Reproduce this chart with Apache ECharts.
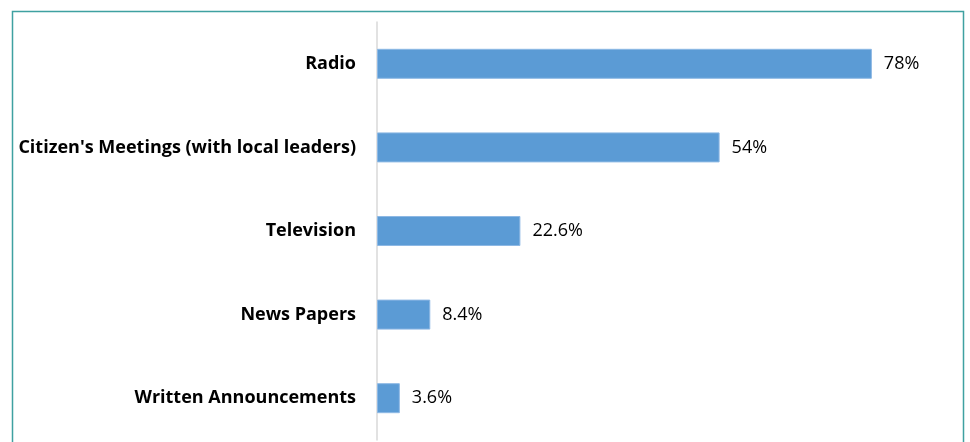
<!DOCTYPE html>
<html>
<head>
<meta charset="utf-8">
<script src="https://cdn.jsdelivr.net/npm/echarts@6/dist/echarts.min.js"></script>
<style>
  html, body { margin: 0; padding: 0; background: #ffffff; }
  #chart { width: 970px; height: 442px; }
</style>
</head>
<body>
<div id="chart"></div>
<script>
// Sources of information, share of respondents (%)
const categories = [
  "Radio",
  "Citizen's Meetings (with local leaders)",
  "Television",
  "News Papers",
  "Written Announcements"
];
const shares = [78, 54, 22.6, 8.4, 3.6];

const chart = echarts.init(document.getElementById('chart'));

chart.setOption({
  animation: false,
  backgroundColor: '#ffffff',
  grid: { left: 377, right: 22, top: 22, bottom: 2, containLabel: false },
  xAxis: {
    type: 'value',
    min: 0,
    max: 90,
    show: false
  },
  yAxis: {
    type: 'category',
    data: categories,
    inverse: true,
    axisLine: { show: true, lineStyle: { color: '#d9d9d9', width: 1.5 } },
    axisTick: { show: false },
    splitLine: { show: false },
    axisLabel: {
      margin: 21,
      color: '#000000',
      fontFamily: 'Open Sans',
      fontWeight: 'bold',
      fontSize: 18
    }
  },
  series: [{
    type: 'bar',
    data: shares,
    barWidth: 30,
    itemStyle: { color: '#5b9bd5', borderColor: '#8db8e4', borderWidth: 1 },
    label: {
      show: true,
      position: 'right',
      distance: 12,
      color: '#000000',
      fontFamily: 'Open Sans',
      fontSize: 18,
      formatter: p => p.value + '%'
    }
  }],
  graphic: [{
    type: 'rect',
    silent: true,
    z: 100,
    shape: { x: 12.5, y: 11.5, width: 951, height: 500 },
    style: { fill: 'none', stroke: '#3fa1a1', lineWidth: 1.5 }
  }]
});
</script>
</body>
</html>
